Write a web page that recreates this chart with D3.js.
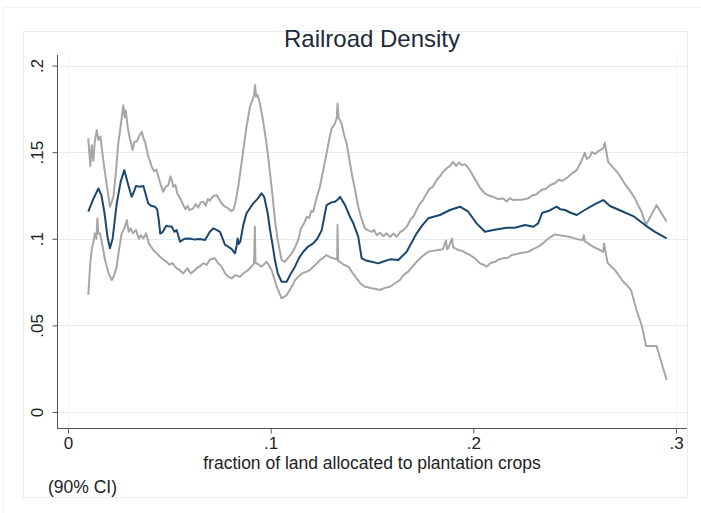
<!DOCTYPE html>
<html>
<head>
<meta charset="utf-8">
<script src="https://cdn.jsdelivr.net/npm/d3@7"></script>
<style>
  body { margin: 0; background: #fff; }
  svg { display: block; font-family: "Liberation Sans", Arial, sans-serif; }
</style>
</head>
<body>
<svg id="chart" width="701" height="513"></svg>
<script>
const chartTitle = 'Railroad Density';
const xTitle = 'fraction of land allocated to plantation crops';
const noteText = '(90% CI)';
const xTicks = [0, 0.1, 0.2, 0.3];
const xTickLabels = ['0', '.1', '.2', '.3'];
const yTicks = [0, 0.05, 0.1, 0.15, 0.2];
const yTickLabels = ['0', '.05', '.1', '.15', '.2'];

// local polynomial fit
const fitX = [0.0100,0.0125,0.0150,0.0165,0.0180,0.0195,0.0207,0.0220,0.0240,0.0260,0.0278,0.0295,0.0314,0.0325,0.0335,0.0355,0.0372,0.0385,0.0396,0.0410,0.0429,0.0440,0.0448,0.0455,0.0468,0.0485,0.0500,0.0512,0.0525,0.0536,0.0553,0.0575,0.0600,0.0625,0.0650,0.0676,0.0700,0.0717,0.0735,0.0750,0.0775,0.0791,0.0808,0.0824,0.0832,0.0837,0.0842,0.0850,0.0865,0.0881,0.0900,0.0914,0.0935,0.0955,0.0968,0.0985,0.0997,0.1010,0.1021,0.1035,0.1054,0.1079,0.1100,0.1120,0.1140,0.1161,0.1185,0.1210,0.1230,0.1252,0.1265,0.1276,0.1300,0.1317,0.1330,0.1342,0.1367,0.1390,0.1408,0.1432,0.1449,0.1470,0.1498,0.1531,0.1560,0.1589,0.1630,0.1671,0.1720,0.1750,0.1777,0.1835,0.1885,0.1934,0.1975,0.2016,0.2057,0.2098,0.2164,0.2205,0.2255,0.2296,0.2320,0.2340,0.2370,0.2411,0.2430,0.2452,0.2480,0.2510,0.2550,0.2600,0.2641,0.2674,0.2731,0.2789,0.2847,0.2896,0.2954];
const fitY = [0.1156,0.1230,0.1290,0.1250,0.1150,0.1010,0.0945,0.1000,0.1200,0.1330,0.1396,0.1320,0.1242,0.1270,0.1304,0.1300,0.1304,0.1250,0.1204,0.1190,0.1185,0.1170,0.1108,0.1030,0.1040,0.1075,0.1070,0.1070,0.1040,0.1050,0.0983,0.1000,0.1002,0.0995,0.0998,0.0993,0.1040,0.1060,0.1050,0.1040,0.0964,0.0954,0.0940,0.0916,0.0960,0.1002,0.0970,0.0983,0.1080,0.1147,0.1180,0.1204,0.1230,0.1262,0.1242,0.1150,0.1050,0.0960,0.0877,0.0800,0.0752,0.0752,0.0800,0.0839,0.0890,0.0925,0.0955,0.0973,0.1000,0.1050,0.1130,0.1194,0.1210,0.1214,0.1225,0.1242,0.1194,0.1130,0.1089,0.1012,0.0887,0.0875,0.0867,0.0858,0.0870,0.0881,0.0877,0.0925,0.1031,0.1080,0.1118,0.1137,0.1166,0.1185,0.1156,0.1089,0.1040,0.1050,0.1064,0.1064,0.1079,0.1069,0.1089,0.1150,0.1160,0.1185,0.1170,0.1166,0.1150,0.1137,0.1166,0.1200,0.1223,0.1189,0.1160,0.1131,0.1079,0.1040,0.1002];

// upper bound of the 90% CI
const upperX = [0.0100,0.0110,0.0117,0.0125,0.0132,0.0142,0.0150,0.0160,0.0174,0.0190,0.0207,0.0215,0.0224,0.0236,0.0248,0.0260,0.0273,0.0280,0.0285,0.0295,0.0305,0.0319,0.0327,0.0339,0.0350,0.0364,0.0372,0.0380,0.0395,0.0413,0.0425,0.0435,0.0446,0.0458,0.0470,0.0482,0.0495,0.0505,0.0512,0.0520,0.0530,0.0540,0.0555,0.0569,0.0580,0.0590,0.0600,0.0618,0.0630,0.0642,0.0655,0.0668,0.0680,0.0690,0.0700,0.0715,0.0733,0.0745,0.0760,0.0775,0.0791,0.0805,0.0816,0.0828,0.0840,0.0852,0.0865,0.0880,0.0898,0.0910,0.0918,0.0923,0.0928,0.0935,0.0947,0.0960,0.0972,0.0985,0.0997,0.1010,0.1021,0.1035,0.1054,0.1070,0.1085,0.1104,0.1120,0.1136,0.1150,0.1165,0.1178,0.1190,0.1200,0.1210,0.1225,0.1243,0.1260,0.1276,0.1290,0.1301,0.1315,0.1326,0.1330,0.1335,0.1350,0.1362,0.1375,0.1388,0.1400,0.1415,0.1432,0.1450,0.1465,0.1480,0.1498,0.1510,0.1523,0.1540,0.1555,0.1572,0.1590,0.1605,0.1622,0.1640,0.1655,0.1671,0.1690,0.1705,0.1720,0.1735,0.1750,0.1770,0.1785,0.1800,0.1819,0.1835,0.1850,0.1868,0.1885,0.1901,0.1915,0.1930,0.1942,0.1960,0.1983,0.2000,0.2016,0.2035,0.2057,0.2075,0.2098,0.2120,0.2147,0.2165,0.2180,0.2197,0.2215,0.2240,0.2271,0.2290,0.2310,0.2337,0.2360,0.2380,0.2403,0.2420,0.2440,0.2468,0.2490,0.2510,0.2530,0.2550,0.2560,0.2575,0.2585,0.2600,0.2625,0.2640,0.2649,0.2665,0.2690,0.2715,0.2740,0.2764,0.2780,0.2797,0.2815,0.2830,0.2852,0.2904,0.2954];
const upperY = [0.1580,0.1420,0.1540,0.1450,0.1560,0.1627,0.1570,0.1590,0.1454,0.1320,0.1185,0.1210,0.1242,0.1380,0.1550,0.1650,0.1771,0.1700,0.1740,0.1640,0.1580,0.1512,0.1560,0.1560,0.1590,0.1617,0.1580,0.1560,0.1480,0.1416,0.1390,0.1400,0.1358,0.1310,0.1271,0.1300,0.1310,0.1360,0.1339,0.1300,0.1310,0.1260,0.1230,0.1194,0.1170,0.1190,0.1165,0.1175,0.1200,0.1180,0.1210,0.1214,0.1190,0.1230,0.1220,0.1245,0.1252,0.1230,0.1200,0.1185,0.1175,0.1160,0.1166,0.1220,0.1300,0.1400,0.1512,0.1640,0.1762,0.1800,0.1830,0.1887,0.1820,0.1830,0.1781,0.1700,0.1608,0.1500,0.1377,0.1240,0.1108,0.0990,0.0877,0.0867,0.0890,0.0916,0.0950,0.0993,0.1060,0.1090,0.1127,0.1120,0.1160,0.1156,0.1230,0.1300,0.1400,0.1493,0.1580,0.1637,0.1660,0.1695,0.1781,0.1700,0.1666,0.1600,0.1550,0.1460,0.1377,0.1290,0.1185,0.1110,0.1060,0.1050,0.1040,0.1050,0.1021,0.1035,0.1015,0.1031,0.1010,0.1030,0.1012,0.1040,0.1050,0.1069,0.1110,0.1130,0.1166,0.1200,0.1220,0.1262,0.1290,0.1300,0.1339,0.1360,0.1385,0.1406,0.1420,0.1444,0.1420,0.1440,0.1425,0.1430,0.1396,0.1360,0.1329,0.1290,0.1262,0.1250,0.1242,0.1230,0.1233,0.1215,0.1235,0.1223,0.1225,0.1225,0.1233,0.1250,0.1255,0.1281,0.1290,0.1310,0.1320,0.1340,0.1335,0.1358,0.1380,0.1396,0.1440,0.1496,0.1460,0.1473,0.1500,0.1490,0.1512,0.1520,0.1554,0.1444,0.1410,0.1377,0.1330,0.1291,0.1265,0.1233,0.1190,0.1156,0.1079,0.1194,0.1098];

// lower bound of the 90% CI
const lowerX = [0.0100,0.0110,0.0117,0.0125,0.0133,0.0140,0.0145,0.0150,0.0158,0.0170,0.0183,0.0200,0.0216,0.0228,0.0240,0.0252,0.0265,0.0278,0.0290,0.0300,0.0310,0.0320,0.0335,0.0350,0.0360,0.0372,0.0385,0.0400,0.0421,0.0435,0.0454,0.0470,0.0487,0.0500,0.0515,0.0536,0.0550,0.0569,0.0590,0.0605,0.0618,0.0635,0.0650,0.0668,0.0685,0.0700,0.0725,0.0740,0.0758,0.0775,0.0791,0.0807,0.0825,0.0849,0.0865,0.0889,0.0905,0.0918,0.0922,0.0925,0.0931,0.0955,0.0980,0.1005,0.1030,0.1054,0.1079,0.1104,0.1120,0.1136,0.1155,0.1178,0.1195,0.1210,0.1230,0.1243,0.1260,0.1276,0.1290,0.1309,0.1328,0.1330,0.1333,0.1342,0.1360,0.1383,0.1400,0.1424,0.1445,0.1465,0.1480,0.1498,0.1520,0.1539,0.1560,0.1589,0.1610,0.1638,0.1655,0.1679,0.1700,0.1728,0.1750,0.1777,0.1800,0.1827,0.1850,0.1865,0.1870,0.1876,0.1895,0.1900,0.1926,0.1945,0.1967,0.1985,0.2008,0.2033,0.2050,0.2066,0.2085,0.2107,0.2125,0.2147,0.2170,0.2189,0.2210,0.2230,0.2250,0.2271,0.2295,0.2320,0.2340,0.2361,0.2380,0.2403,0.2425,0.2452,0.2475,0.2501,0.2520,0.2540,0.2545,0.2550,0.2567,0.2590,0.2608,0.2625,0.2641,0.2645,0.2662,0.2680,0.2699,0.2720,0.2740,0.2760,0.2778,0.2805,0.2833,0.2852,0.2904,0.2954];
const lowerY = [0.0675,0.0860,0.0935,0.0980,0.1031,0.1000,0.1118,0.1030,0.1031,0.0960,0.0877,0.0800,0.0762,0.0790,0.0839,0.0940,0.1031,0.1060,0.1108,0.1040,0.1060,0.1031,0.1050,0.1000,0.1020,0.1002,0.1031,0.0970,0.0935,0.0920,0.0896,0.0880,0.0867,0.0850,0.0860,0.0829,0.0820,0.0800,0.0830,0.0800,0.0810,0.0830,0.0840,0.0858,0.0850,0.0880,0.0887,0.0860,0.0839,0.0800,0.0781,0.0771,0.0790,0.0781,0.0800,0.0819,0.0840,0.0858,0.1069,0.0860,0.0858,0.0839,0.0867,0.0819,0.0723,0.0656,0.0675,0.0723,0.0760,0.0781,0.0800,0.0810,0.0820,0.0839,0.0860,0.0877,0.0890,0.0906,0.0895,0.0887,0.0880,0.1079,0.0870,0.0867,0.0850,0.0839,0.0810,0.0771,0.0740,0.0723,0.0720,0.0714,0.0710,0.0704,0.0715,0.0723,0.0740,0.0762,0.0790,0.0810,0.0840,0.0877,0.0900,0.0925,0.0930,0.0935,0.0940,0.0990,0.0940,0.0944,0.1002,0.0950,0.0935,0.0930,0.0916,0.0905,0.0887,0.0858,0.0850,0.0839,0.0860,0.0867,0.0880,0.0887,0.0890,0.0906,0.0910,0.0916,0.0920,0.0925,0.0940,0.0954,0.0970,0.0993,0.1010,0.1025,0.1020,0.1016,0.1010,0.1002,0.0995,0.0993,0.1021,0.0985,0.0973,0.0955,0.0944,0.0935,0.0925,0.0973,0.0862,0.0840,0.0819,0.0785,0.0752,0.0730,0.0704,0.0589,0.0492,0.0381,0.0381,0.0185];

const W = 701, H = 513;
const plot = { left: 57, right: 687, top: 55, bottom: 428 };

const svg = d3.select('#chart');

// outer and inner graph frames
svg.append('rect')
  .attr('x', 3.5).attr('y', 7.5).attr('width', W).attr('height', H)
  .attr('fill', 'none').attr('stroke', '#eef2f2');
svg.append('rect')
  .attr('x', 23.5).attr('y', 31.5).attr('width', 664).attr('height', 466)
  .attr('fill', 'none').attr('stroke', '#e8eeee');

const x = d3.scaleLinear().domain([0, 0.3]).range([68, 676]);
const y = d3.scaleLinear().domain([0, 0.2]).range([412, 65.5]);

// gridlines
svg.append('g')
  .selectAll('line')
  .data(yTicks)
  .enter().append('line')
  .attr('x1', plot.left + 1).attr('x2', plot.right)
  .attr('y1', d => Math.round(y(d)) + 0.5).attr('y2', d => Math.round(y(d)) + 0.5)
  .attr('stroke', '#e4eded').attr('stroke-width', 1);

svg.append('g')
  .selectAll('line')
  .data([0, 0.3])
  .enter().append('line')
  .attr('x1', d => Math.round(x(d)) + 0.5).attr('x2', d => Math.round(x(d)) + 0.5)
  .attr('y1', plot.top).attr('y2', plot.bottom)
  .attr('stroke', '#eef3f3').attr('stroke-width', 1);

// axes
const yAxis = d3.axisLeft(y)
  .tickValues(yTicks)
  .tickFormat((d, i) => yTickLabels[i])
  .tickSize(5)
  .tickSizeOuter(0);
const gy = svg.append('g')
  .attr('transform', `translate(${plot.left + 0.5},0)`)
  .call(yAxis);
gy.select('.domain').attr('d', `M0,${plot.top}V${plot.bottom}`).attr('stroke', '#555');
gy.selectAll('.tick line').attr('stroke', '#555');
gy.selectAll('.tick text')
  .attr('transform', 'rotate(-90)')
  .attr('x', 0).attr('y', -15)
  .attr('dy', 0)
  .attr('text-anchor', 'middle')
  .attr('fill', '#222')
  .attr('font-size', 17)
  .attr('font-family', '"Liberation Sans", Arial, sans-serif');

const xAxis = d3.axisBottom(x)
  .tickValues(xTicks)
  .tickFormat((d, i) => xTickLabels[i])
  .tickSize(5)
  .tickSizeOuter(0);
const gx = svg.append('g')
  .attr('transform', `translate(0,${plot.bottom + 0.5})`)
  .call(xAxis);
gx.select('.domain').attr('d', `M${plot.left},0H${plot.right}`).attr('stroke', '#555');
gx.selectAll('.tick line').attr('stroke', '#555');
gx.selectAll('.tick text')
  .attr('y', 20)
  .attr('dy', 0)
  .attr('fill', '#222')
  .attr('font-size', 17)
  .attr('font-family', '"Liberation Sans", Arial, sans-serif');

// lines
const line = (xs, ys) => d3.line()
  .x((d, i) => x(xs[i]))
  .y((d, i) => y(ys[i]))(xs);

svg.append('path')
  .attr('d', line(upperX, upperY))
  .attr('fill', 'none').attr('stroke', '#a6a6a6').attr('stroke-width', 2)
  .attr('stroke-linejoin', 'round');
svg.append('path')
  .attr('d', line(lowerX, lowerY))
  .attr('fill', 'none').attr('stroke', '#a6a6a6').attr('stroke-width', 2)
  .attr('stroke-linejoin', 'round');
svg.append('path')
  .attr('d', line(fitX, fitY))
  .attr('fill', 'none').attr('stroke', '#1a476f').attr('stroke-width', 2)
  .attr('stroke-linejoin', 'round');

// titles
svg.append('text')
  .attr('x', 372).attr('y', 47)
  .attr('text-anchor', 'middle')
  .attr('font-size', 24)
  .attr('fill', '#1e2a3a')
  .text(chartTitle);

svg.append('text')
  .attr('x', 372).attr('y', 469)
  .attr('text-anchor', 'middle')
  .attr('font-size', 17.5)
  .attr('fill', '#222')
  .text(xTitle);

svg.append('text')
  .attr('x', 48).attr('y', 493)
  .attr('font-size', 17.5)
  .attr('fill', '#222')
  .text(noteText);
</script>
</body>
</html>
